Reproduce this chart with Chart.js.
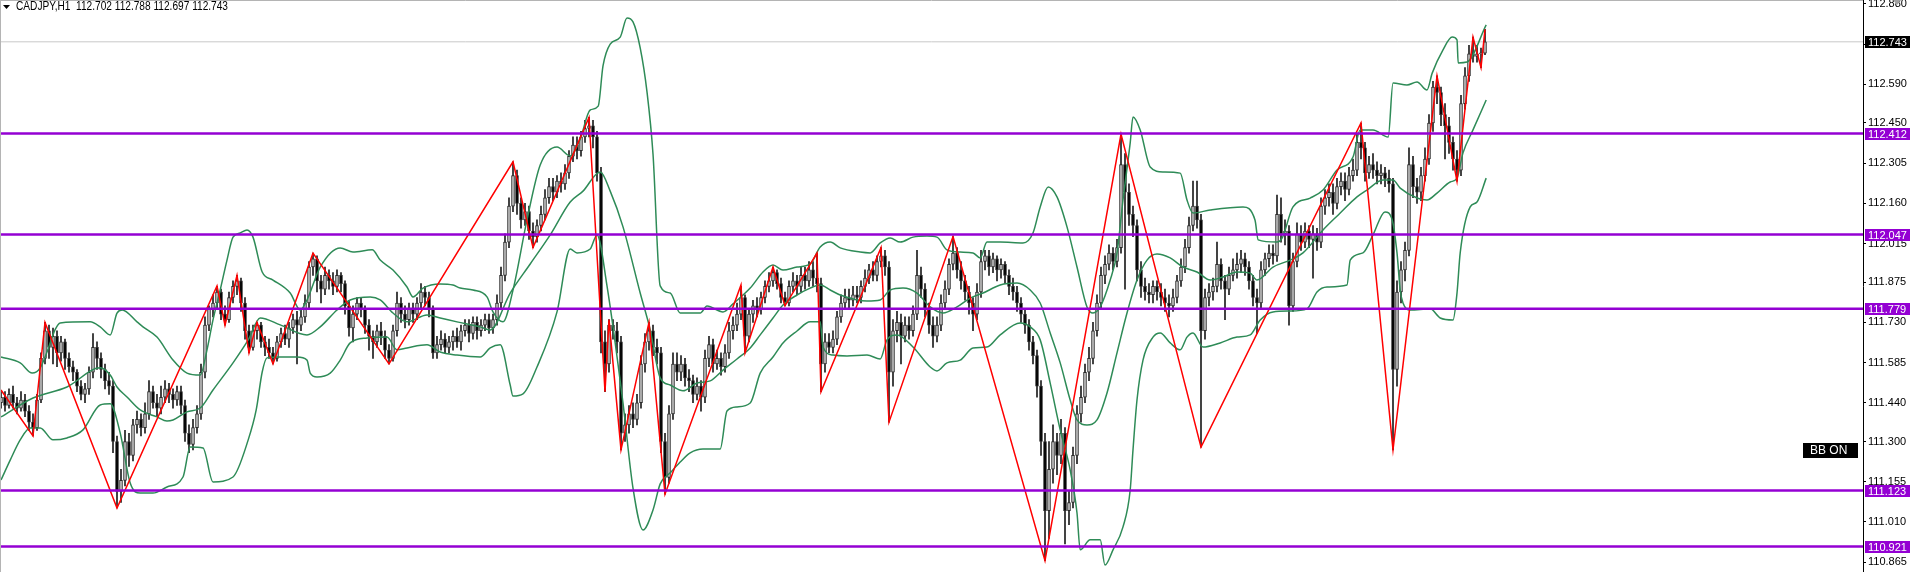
<!DOCTYPE html>
<html>
<head>
    <title>CADJPY,H1</title>
    <script src="https://cdn.jsdelivr.net/npm/chart.js"></script>
    <style>
        body { margin: 0; background: #fff; }
        #wrap { width: 1913px; height: 572px; }
    </style>
</head>
<body>
    <div id="wrap"><canvas id="priceChart" width="1913" height="572"></canvas></div>

    <script>
        const symbolTitle = 'CADJPY,H1  112.702 112.788 112.697 112.743';
        const firstOpen = 111.44;

        // one value per H1 bar, oldest first
        const closes = [
            111.46,111.43,111.47,111.44,111.42,111.45,111.41,111.37,111.35,111.45,
            111.60,111.70,111.64,111.68,111.62,111.66,111.60,111.57,111.55,111.50,
            111.47,111.49,111.55,111.64,111.60,111.56,111.52,111.50,111.30,111.12,
            111.16,111.30,111.25,111.36,111.38,111.35,111.40,111.48,111.44,111.42,
            111.46,111.49,111.47,111.45,111.48,111.43,111.33,111.29,111.35,111.40,
            111.55,111.72,111.78,111.80,111.84,111.76,111.74,111.82,111.86,111.88,
            111.80,111.70,111.64,111.70,111.72,111.66,111.64,111.62,111.60,111.66,
            111.69,111.67,111.71,111.74,111.72,111.75,111.80,111.93,111.96,111.88,
            111.85,111.90,111.88,111.86,111.90,111.87,111.79,111.71,111.76,111.80,
            111.78,111.72,111.68,111.66,111.70,111.68,111.63,111.60,111.70,111.80,
            111.76,111.74,111.78,111.76,111.80,111.84,111.82,111.78,111.62,111.65,
            111.67,111.64,111.66,111.68,111.66,111.70,111.72,111.69,111.73,111.70,
            111.72,111.74,111.71,111.74,111.80,111.90,112.02,112.15,112.26,112.16,
            112.10,112.13,112.06,112.04,112.08,112.12,112.18,112.22,112.20,112.24,
            112.23,112.27,112.33,112.37,112.35,112.40,112.43,112.44,112.40,112.27,
            111.66,111.58,111.72,111.70,111.66,111.33,111.36,111.40,111.38,111.44,
            111.58,111.66,111.70,111.64,111.62,111.30,111.17,111.40,111.58,111.55,
            111.58,111.53,111.52,111.47,111.50,111.46,111.60,111.65,111.58,111.60,
            111.57,111.62,111.70,111.72,111.76,111.82,111.68,111.76,111.79,111.78,
            111.82,111.86,111.88,111.91,111.87,111.82,111.80,111.86,111.88,111.86,
            111.90,111.88,111.92,111.89,111.87,111.58,111.66,111.64,111.67,111.75,
            111.80,111.82,111.81,111.83,111.82,111.86,111.89,111.92,111.90,111.95,
            111.97,111.93,111.55,111.70,111.73,111.68,111.72,111.70,111.76,111.90,
            111.85,111.78,111.72,111.68,111.72,111.80,111.85,111.94,111.98,111.92,
            111.88,111.84,111.80,111.76,111.84,111.95,111.97,111.93,111.96,111.92,
            111.94,111.90,111.86,111.84,111.80,111.76,111.72,111.66,111.61,111.50,
            111.30,111.05,111.20,111.30,111.25,111.33,111.05,111.08,111.25,111.40,
            111.46,111.55,111.60,111.70,111.80,111.90,111.94,111.98,111.95,112.00,
            112.30,112.20,112.12,112.08,111.92,111.86,111.84,111.83,111.86,111.84,
            111.82,111.80,111.79,111.82,111.88,111.93,112.00,112.08,112.15,112.10,
            111.70,111.82,111.84,111.86,111.94,111.88,111.85,111.90,111.92,111.94,
            111.96,111.93,111.88,111.82,111.80,111.92,111.96,111.98,111.97,112.12,
            112.05,112.06,111.79,111.95,112.05,112.02,112.06,112.03,112.05,112.02,
            112.15,112.18,112.20,112.16,112.22,112.24,112.21,112.26,112.28,112.38,
            112.36,112.27,112.30,112.28,112.26,112.27,112.25,112.23,111.56,111.84,
            111.92,111.99,112.30,112.22,112.20,112.26,112.32,112.45,112.58,112.56,
            112.48,112.44,112.38,112.32,112.28,112.52,112.62,112.70,112.69,112.70,
            112.702,112.743
        ];

        const highs = [
            111.48,111.48,111.49,111.50,111.46,111.48,111.47,111.43,111.40,111.47,
            111.62,111.73,111.72,111.71,111.70,111.68,111.67,111.62,111.59,111.56,
            111.52,111.51,111.57,111.69,111.66,111.62,111.58,111.55,111.52,111.32,
            111.20,111.34,111.33,111.38,111.41,111.40,111.44,111.52,111.50,111.47,
            111.50,111.52,111.51,111.49,111.50,111.50,111.45,111.36,111.38,111.43,
            111.58,111.75,111.79,111.83,111.86,111.85,111.79,111.84,111.88,111.90,
            111.89,111.82,111.72,111.72,111.73,111.73,111.68,111.67,111.64,111.68,
            111.71,111.72,111.73,111.76,111.77,111.78,111.83,111.95,111.98,111.97,
            111.90,111.93,111.92,111.91,111.92,111.91,111.88,111.81,111.79,111.82,
            111.82,111.79,111.74,111.70,111.72,111.73,111.70,111.65,111.72,111.84,
            111.82,111.79,111.80,111.80,111.82,111.87,111.86,111.84,111.79,111.68,
            111.70,111.69,111.68,111.70,111.71,111.72,111.74,111.74,111.75,111.75,
            111.74,111.76,111.76,111.76,111.83,111.93,112.05,112.18,112.31,112.28,
            112.18,112.16,112.15,112.09,112.10,112.15,112.21,112.25,112.25,112.26,
            112.27,112.30,112.35,112.40,112.40,112.42,112.46,112.47,112.46,112.42,
            112.29,111.70,111.74,111.74,111.73,111.68,111.40,111.43,111.44,111.47,
            111.61,111.69,111.73,111.72,111.67,111.64,111.33,111.43,111.62,111.62,
            111.61,111.60,111.56,111.54,111.53,111.52,111.63,111.68,111.67,111.63,
            111.62,111.65,111.73,111.75,111.80,111.86,111.83,111.78,111.81,111.82,
            111.84,111.88,111.91,111.93,111.92,111.89,111.84,111.88,111.91,111.90,
            111.93,111.93,111.95,111.95,111.98,111.89,111.69,111.69,111.70,111.77,
            111.83,111.85,111.85,111.86,111.86,111.88,111.92,111.94,111.95,111.97,
            112.00,111.99,111.95,111.74,111.77,111.76,111.75,111.75,111.79,111.99,
            111.93,111.87,111.80,111.75,111.75,111.83,111.88,111.96,112.04,112.00,
            111.95,111.90,111.86,111.82,111.87,111.99,111.99,111.99,111.98,111.97,
            111.96,111.95,111.92,111.89,111.86,111.82,111.78,111.74,111.68,111.63,
            111.52,111.33,111.30,111.36,111.33,111.38,111.35,111.12,111.28,111.43,
            111.50,111.58,111.64,111.73,111.83,111.93,111.97,112.01,112.00,112.03,
            112.41,112.34,112.23,112.15,112.10,111.95,111.89,111.87,111.88,111.88,
            111.87,111.85,111.83,111.85,111.90,111.96,112.03,112.11,112.24,112.24,
            112.12,111.85,111.87,111.89,112.02,111.96,111.90,111.93,111.96,111.98,
            111.99,111.98,111.95,111.90,111.85,111.95,111.98,112.01,112.01,112.19,
            112.18,112.10,112.08,111.98,112.09,112.08,112.09,112.08,112.08,112.07,
            112.18,112.21,112.23,112.23,112.25,112.27,112.27,112.29,112.32,112.41,
            112.45,112.38,112.33,112.34,112.31,112.30,112.29,112.28,112.25,111.88,
            111.95,112.02,112.36,112.33,112.25,112.29,112.36,112.48,112.60,112.62,
            112.58,112.52,112.47,112.40,112.35,112.55,112.65,112.73,112.76,112.73,
            112.72,112.788
        ];

        const lows = [
            111.42,111.41,111.42,111.42,111.40,111.41,111.39,111.34,111.32,111.34,
            111.44,111.58,111.60,111.58,111.57,111.59,111.56,111.55,111.52,111.48,
            111.45,111.44,111.47,111.53,111.56,111.53,111.49,111.47,111.26,111.06,
            111.08,111.14,111.21,111.23,111.33,111.32,111.33,111.38,111.42,111.39,
            111.40,111.44,111.44,111.42,111.43,111.40,111.30,111.26,111.27,111.33,
            111.38,111.53,111.70,111.75,111.78,111.74,111.72,111.73,111.80,111.83,
            111.77,111.67,111.62,111.63,111.67,111.64,111.61,111.60,111.58,111.59,
            111.64,111.65,111.64,111.69,111.58,111.70,111.73,111.78,111.90,111.84,
            111.80,111.83,111.85,111.83,111.84,111.84,111.76,111.68,111.66,111.74,
            111.75,111.69,111.63,111.60,111.64,111.65,111.60,111.58,111.59,111.68,
            111.73,111.71,111.72,111.73,111.74,111.78,111.79,111.75,111.60,111.60,
            111.63,111.62,111.62,111.63,111.64,111.63,111.68,111.66,111.67,111.67,
            111.68,111.70,111.69,111.69,111.72,111.78,111.88,112.00,112.13,112.12,
            112.07,112.08,112.03,112.00,112.02,112.06,112.10,112.16,112.17,112.18,
            112.20,112.21,112.25,112.31,112.32,112.33,112.38,112.40,112.36,112.24,
            111.62,111.48,111.55,111.67,111.62,111.27,111.30,111.33,111.35,111.36,
            111.42,111.55,111.63,111.61,111.58,111.26,111.11,111.15,111.38,111.52,
            111.52,111.50,111.48,111.44,111.45,111.41,111.44,111.57,111.55,111.56,
            111.54,111.55,111.60,111.67,111.70,111.74,111.62,111.66,111.73,111.75,
            111.76,111.80,111.84,111.86,111.85,111.80,111.79,111.79,111.84,111.83,
            111.84,111.85,111.86,111.86,111.84,111.48,111.55,111.62,111.62,111.65,
            111.73,111.78,111.78,111.79,111.80,111.80,111.84,111.87,111.88,111.88,
            111.93,111.90,111.37,111.50,111.66,111.58,111.66,111.67,111.68,111.74,
            111.82,111.75,111.69,111.64,111.66,111.70,111.78,111.83,111.92,111.89,
            111.85,111.81,111.76,111.70,111.74,111.82,111.92,111.90,111.91,111.88,
            111.89,111.87,111.83,111.81,111.77,111.73,111.69,111.63,111.58,111.46,
            111.25,110.87,110.95,111.15,111.18,111.22,110.93,111.00,111.06,111.22,
            111.37,111.44,111.52,111.58,111.68,111.78,111.87,111.92,111.92,111.93,
            111.98,111.85,112.08,112.04,111.88,111.82,111.81,111.80,111.80,111.81,
            111.79,111.77,111.75,111.77,111.80,111.86,111.91,111.98,112.06,112.07,
            111.28,111.67,111.79,111.81,111.84,111.85,111.74,111.83,111.88,111.89,
            111.91,111.90,111.85,111.79,111.69,111.78,111.90,111.93,111.94,111.95,
            112.02,112.01,111.72,111.77,111.93,111.99,112.00,112.00,111.89,111.99,
            112.00,112.12,112.15,112.12,112.14,112.19,112.17,112.19,112.24,112.26,
            112.32,112.24,112.25,112.25,112.23,112.23,112.22,112.20,111.27,111.50,
            111.80,111.88,111.97,112.18,112.16,112.17,112.24,112.30,112.42,112.52,
            112.44,112.32,112.34,112.28,112.24,112.26,112.50,112.60,112.67,112.67,
            112.65,112.697
        ];

        // zigzag turning points: bar index and price
        const zigzagBars = [0, 8, 11, 29, 54, 56, 59, 62, 64, 68, 78, 97, 128, 133, 147, 151, 152, 155, 162, 166,
            185, 186, 193, 196, 204, 205, 220, 222, 238, 261, 280, 300, 340, 348, 359, 364, 368, 370, 371];
        const zigzagPrices = [111.486, 111.32, 111.73, 111.06, 111.862, 111.72, 111.90, 111.62, 111.73, 111.58,
            111.98, 111.58, 112.31, 112.00, 112.47, 111.48, 111.74, 111.27, 111.73, 111.11,
            111.865, 111.62, 111.93, 111.79, 111.98, 111.48, 112.00, 111.37, 112.04, 110.87,
            112.41, 111.28, 112.45, 111.27, 112.62, 112.24, 112.76, 112.65, 112.788];

        // bollinger bands: [bar, price]
        const bbUpper = [[0,111.605],[4.8,111.584],[7.8,111.547],[9.8,111.566],[11.5,111.623],[13.5,111.703],[14.8,111.728],[22.3,111.732],[24.8,111.714],[27.3,111.685],[29,111.764],[30.3,111.775],[34,111.732],[35.5,111.714],[39,111.677],[43,111.594],[46.5,111.547],[49.8,111.540],[51.5,111.631],[53,111.739],[54.8,111.847],[56.5,111.955],[58,112.038],[59.8,112.053],[61.5,112.064],[63,112.038],[65.3,111.912],[68,111.883],[72.3,111.836],[74.8,111.775],[76.5,111.811],[79.8,111.930],[84.8,111.999],[88,111.984],[92.8,111.992],[94.8,111.955],[98,111.919],[101.5,111.858],[103,111.822],[105.5,111.854],[109.8,111.869],[113,111.865],[114.8,111.854],[118,111.847],[121.5,111.822],[123,111.768],[125.5,111.732],[128,111.847],[131.5,112.100],[134.8,112.298],[139,112.363],[142.3,112.331],[144.8,112.392],[147.3,112.497],[149.3,112.511],[150.5,112.656],[152.3,112.735],[154.8,112.760],[156.5,112.829],[158,112.815],[159.8,112.721],[161.5,112.562],[163,112.338],[164.8,111.862],[167.3,111.836],[169.8,111.764],[174.8,111.764],[176.5,111.789],[180.5,111.768],[183,111.797],[187.3,111.854],[190.5,111.912],[193,111.937],[195.5,111.919],[199,111.930],[202.3,111.941],[204.8,112.002],[207.3,112.020],[209.8,111.999],[214.8,111.984],[217.3,111.981],[219.8,112.017],[222.3,112.035],[224.8,112.020],[228,112.038],[231.5,112.042],[234,112.038],[236.5,111.992],[239.8,111.984],[243,111.981],[244.8,111.963],[246.5,112.020],[249.8,112.020],[255.5,112.017],[258,112.053],[259.8,112.147],[261.8,112.219],[264,112.183],[266.5,112.075],[269,111.930],[271.5,111.786],[273,111.764],[274.8,111.786],[277.3,111.883],[279,111.981],[280.5,112.172],[282.3,112.378],[283,112.472],[284.8,112.425],[287.3,112.291],[290.5,112.273],[294.8,112.269],[296.5,112.172],[298,112.125],[302.3,112.136],[310.5,112.147],[313.5,112.100],[314.3,112.028],[319,112.020],[320.3,112.035],[323,112.147],[327.3,112.179],[330.5,112.208],[334,112.280],[338,112.327],[339.8,112.425],[343,112.425],[346.8,112.399],[348,112.594],[351.5,112.587],[354,112.598],[356.5,112.569],[357.8,112.630],[360.5,112.714],[362.8,112.760],[364,112.750],[364.3,112.667],[366.5,112.670],[371.3,112.804]];

        const bbMiddle = [[0,111.389],[8,111.457],[16.5,111.497],[24.8,111.566],[27.3,111.540],[29,111.497],[31.5,111.461],[34.8,111.414],[39,111.389],[41.5,111.374],[43,111.378],[46.5,111.407],[49.8,111.421],[53,111.486],[58,111.584],[61.8,111.667],[64.8,111.746],[69.8,111.721],[76.5,111.685],[79.8,111.714],[84,111.775],[87.3,111.811],[92.3,111.822],[94.8,111.811],[98,111.764],[101.5,111.732],[106.5,111.757],[109.8,111.746],[114,111.732],[119.8,111.714],[122.3,111.703],[127.3,111.836],[132.3,111.941],[137.3,112.046],[142.3,112.165],[145.5,112.204],[149.8,112.273],[152.3,112.204],[155.5,112.075],[159.8,111.836],[162.3,111.703],[164.8,111.530],[167.3,111.504],[170.5,111.483],[174,111.511],[177.3,111.519],[180.5,111.558],[184,111.598],[187.3,111.638],[189.8,111.685],[193,111.746],[195.5,111.793],[199,111.829],[202.3,111.854],[204.8,111.865],[207.3,111.847],[209.8,111.829],[216.5,111.807],[219.8,111.811],[222.3,111.847],[225.5,111.854],[229,111.836],[232.3,111.786],[235.5,111.764],[239,111.786],[242.3,111.818],[245.5,111.836],[249.8,111.865],[254,111.872],[257.3,111.847],[259.8,111.800],[262.3,111.692],[264.8,111.584],[267.3,111.450],[269,111.378],[271.5,111.360],[274,111.378],[276.5,111.475],[279,111.620],[281.5,111.764],[284,111.883],[286.5,111.955],[289,111.977],[292.3,111.963],[295.5,111.930],[299,111.912],[302.3,111.883],[305.5,111.894],[309,111.912],[312.3,111.908],[314,111.883],[318,111.930],[322.3,111.955],[325.5,111.981],[330.5,112.064],[334.8,112.125],[339,112.183],[341.5,112.208],[345.5,112.244],[348,112.244],[349.8,112.215],[354,112.179],[356.5,112.172],[359,112.197],[362.3,112.237],[364,112.251],[365.5,112.342],[368,112.425],[371.3,112.533]];

        const bbLower = [[0,111.161],[2.3,111.233],[4.8,111.306],[7.3,111.349],[9.8,111.349],[13,111.306],[16.5,111.313],[20.5,111.342],[24.8,111.432],[27.3,111.436],[29.8,111.331],[32.3,111.150],[34.8,111.114],[38,111.114],[41.5,111.136],[45.5,111.172],[47.3,111.280],[50.5,111.277],[53,111.154],[58,111.172],[61.8,111.306],[63.8,111.414],[65.3,111.551],[66.5,111.602],[69.8,111.605],[74,111.605],[76.5,111.594],[77.3,111.547],[79,111.533],[82.3,111.547],[84.8,111.594],[87.3,111.656],[91.5,111.674],[96.5,111.677],[99,111.631],[101.5,111.638],[106.5,111.649],[109.8,111.623],[114,111.612],[119.8,111.605],[122.3,111.638],[124.8,111.649],[127.3,111.504],[128,111.464],[130.5,111.472],[134,111.569],[139,111.768],[142.3,111.995],[144,111.981],[147.3,111.995],[149,112.046],[151.5,111.862],[155.5,111.439],[158,111.132],[160.5,110.981],[163,111.053],[164.8,111.147],[167.3,111.187],[169.8,111.226],[172.3,111.259],[175.5,111.273],[179.8,111.273],[181.5,111.410],[184,111.425],[187.3,111.439],[189.8,111.547],[193,111.605],[195.5,111.656],[199,111.699],[202.3,111.732],[204.8,111.732],[205.5,111.641],[208,111.612],[211.5,111.609],[216.5,111.612],[219.8,111.598],[221.5,111.667],[224,111.685],[228,111.641],[232.3,111.569],[234,111.555],[236.5,111.584],[239.8,111.594],[243,111.638],[246.5,111.641],[249.8,111.685],[254.8,111.728],[257.3,111.714],[259.8,111.667],[262.3,111.511],[264.8,111.342],[267.3,111.197],[269,111.042],[269.8,110.909],[272.3,110.945],[274.8,110.945],[276,110.854],[278,110.909],[280.5,110.992],[282.3,111.125],[283,111.270],[284,111.450],[285.5,111.594],[288,111.677],[289.8,111.692],[292.3,111.656],[294.8,111.631],[296.5,111.677],[298,111.692],[300.5,111.641],[304.8,111.656],[309,111.677],[312.3,111.685],[314.8,111.739],[318,111.768],[322.3,111.771],[326.5,111.779],[329,111.840],[331.5,111.858],[336.5,111.865],[337.3,111.955],[340.5,111.981],[343,112.046],[346,112.129],[347.8,112.100],[349,111.981],[349.8,111.847],[350.5,111.800],[352.3,111.775],[357.3,111.779],[359.8,111.746],[363,111.739],[364,111.836],[364.8,111.981],[367.3,112.147],[369,112.165],[371.3,112.251]];

        const levels = [112.412, 112.047, 111.779, 111.123, 110.921];
        const lastPrice = 112.743;
        const yTicks = [112.880, 112.735, 112.590, 112.450, 112.305, 112.160, 112.015, 111.875,
            111.730, 111.585, 111.440, 111.300, 111.155, 111.010, 110.865];

        const X_MIN = -0.25, X_MAX = 465.5;
        const Y_MIN = 110.829, Y_MAX = 112.894;
        const LEVEL_COLOR = '#9400d3';
        const FONT_FAMILY = "'Liberation Sans Narrow', 'Liberation Sans', sans-serif";

        const opens = closes.map((c, i) => i === 0 ? firstOpen : closes[i - 1]);

        const wickData = closes.map((c, i) => ({ x: i, y: [lows[i], highs[i]] }));
        const bodyData = closes.map((c, i) => ({ x: i, y: [opens[i], c] }));
        const bodyColors = closes.map((c, i) => c >= opens[i] ? '#c4c4c4' : '#000000');

        const toPoints = pairs => pairs.map(p => ({ x: p[0], y: p[1] }));

        function lineSet(label, data, color, width, order) {
            return {
                type: 'line', label, data, borderColor: color, borderWidth: width,
                pointRadius: 0, fill: false, order, cubicInterpolationMode: 'monotone'
            };
        }

        const overlay = {
            id: 'overlay',
            afterDraw(chart) {
                const ctx = chart.ctx;
                const ys = chart.scales.y;
                const right = chart.chartArea.right;
                ctx.save();

                // frame
                ctx.strokeStyle = '#b4b4b4';
                ctx.lineWidth = 1;
                ctx.beginPath();
                ctx.moveTo(0, 0.5); ctx.lineTo(right, 0.5);
                ctx.moveTo(0.5, 0); ctx.lineTo(0.5, 572);
                ctx.stroke();

                // chart shift marker
                ctx.fillStyle = '#a0a0a0';
                ctx.beginPath();
                ctx.moveTo(1893, 0); ctx.lineTo(1901, 0); ctx.lineTo(1897, 5); ctx.closePath();
                ctx.fill();

                // symbol line
                ctx.fillStyle = '#000';
                ctx.beginPath();
                ctx.moveTo(3, 5); ctx.lineTo(10, 5); ctx.lineTo(6.5, 9); ctx.closePath();
                ctx.fill();
                ctx.font = '12px ' + FONT_FAMILY;
                ctx.textBaseline = 'middle';
                ctx.textAlign = 'left';
                ctx.fillText(symbolTitle, 16, 7, 212);

                // price labels on the axis
                ctx.font = '11px ' + FONT_FAMILY;
                function tag(value, bg) {
                    const y = Math.round(ys.getPixelForValue(value));
                    ctx.fillStyle = bg;
                    ctx.fillRect(right + 2, y - 6, 45, 12);
                    ctx.fillStyle = '#fff';
                    ctx.fillText(value.toFixed(3), right + 5, y + 0.5);
                }
                levels.forEach(v => tag(v, LEVEL_COLOR));
                tag(lastPrice, '#000');

                // BB ON badge
                ctx.fillStyle = '#000';
                ctx.fillRect(1803, 443, 55, 15);
                ctx.fillStyle = '#fff';
                ctx.font = "12px 'Liberation Sans', sans-serif";
                ctx.fillText('BB ON', 1810, 451);
                ctx.restore();
            }
        };

        const datasets = [
            lineSet('last', [{ x: X_MIN, y: lastPrice }, { x: X_MAX, y: lastPrice }], '#c8c8c8', 1, 30),
            {
                label: 'wicks', data: wickData, backgroundColor: '#1e1e1e',
                barThickness: 1, grouped: false, order: 20
            },
            {
                label: 'bodies', data: bodyData, backgroundColor: bodyColors,
                borderColor: '#2a2a2a', borderWidth: 1, borderSkipped: false,
                barThickness: 3, minBarLength: 1, grouped: false, order: 19
            },
            lineSet('bbUpper', toPoints(bbUpper), '#2e8b57', 1.5, 8),
            lineSet('bbMiddle', toPoints(bbMiddle), '#2e8b57', 1.5, 8),
            lineSet('bbLower', toPoints(bbLower), '#2e8b57', 1.5, 8),
            Object.assign(lineSet('zigzag', zigzagBars.map((b, i) => ({ x: b, y: zigzagPrices[i] })), '#ff0000', 1.5, 5),
                { cubicInterpolationMode: 'default', tension: 0 })
        ];
        levels.forEach(v => {
            datasets.push(lineSet('level ' + v, [{ x: X_MIN, y: v }, { x: X_MAX, y: v }], LEVEL_COLOR, 2.5, 1));
        });

        new Chart(document.getElementById('priceChart'), {
            type: 'bar',
            data: { datasets },
            options: {
                responsive: false,
                animation: false,
                devicePixelRatio: 1,
                layout: { padding: 0 },
                plugins: { legend: { display: false }, tooltip: { enabled: false } },
                scales: {
                    x: {
                        type: 'linear', min: X_MIN, max: X_MAX, offset: false, display: false
                    },
                    y: {
                        type: 'linear', position: 'right', min: Y_MIN, max: Y_MAX,
                        afterFit: s => { s.width = 50; s.paddingTop = 0; s.paddingBottom = 0; },
                        afterBuildTicks: s => { s.ticks = yTicks.map(v => ({ value: v })); },
                        border: { display: true, color: '#000', width: 1 },
                        grid: { drawOnChartArea: false, drawTicks: true, tickLength: 3, color: '#000' },
                        ticks: {
                            padding: 2, color: '#000', autoSkip: false,
                            font: { family: FONT_FAMILY, size: 11 },
                            callback: v => Number(v).toFixed(3)
                        }
                    }
                }
            },
            plugins: [overlay]
        });
    </script>
</body>
</html>
